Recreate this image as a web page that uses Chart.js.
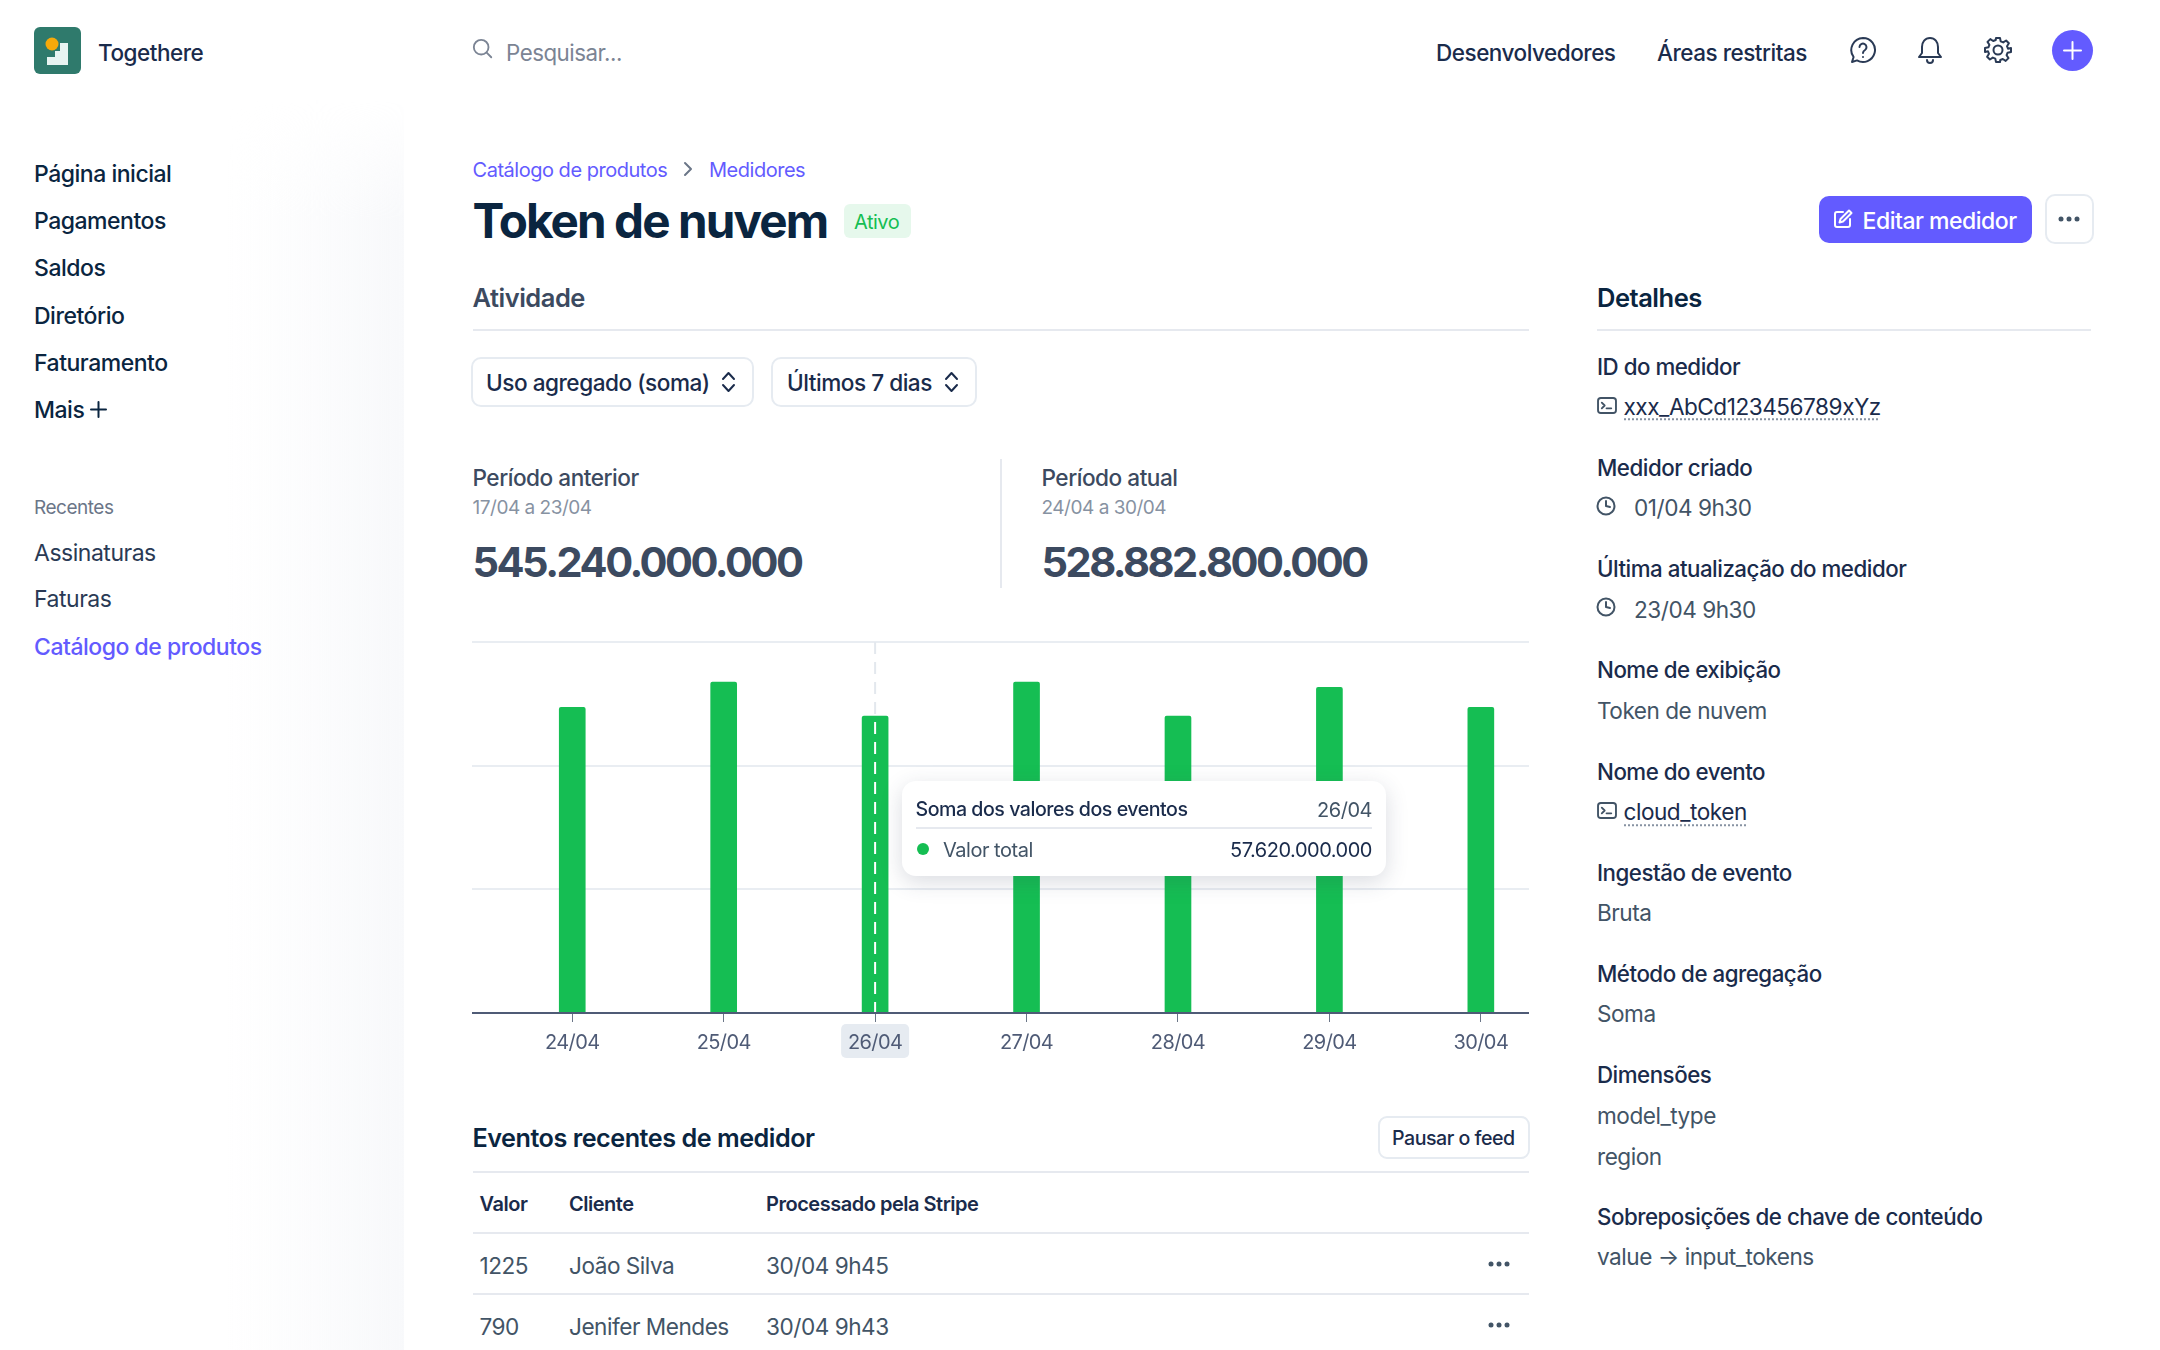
<!DOCTYPE html>
<html lang="pt-BR">
<head>
<meta charset="utf-8">
<title>Token de nuvem</title>
<script src="https://cdn.jsdelivr.net/npm/chart.js@4"></script>
<style>
  html, body { margin: 0; padding: 0; background: #fff; }
  body { width: 2160px; height: 1350px; overflow: hidden; position: relative; font-family: "Inter", sans-serif; letter-spacing: -0.03em; }
  .t { position: absolute; white-space: nowrap; transform: translateY(-50%); line-height: 1.3; }
  .box { position: absolute; box-sizing: border-box; }
  .ico { position: absolute; fill: none; stroke: currentColor; stroke-width: 2; stroke-linecap: round; stroke-linejoin: round; }
  .line { position: absolute; height: 2px; background: #e6e9ef; }
  .nav { left: 34px; font-size: 23px; font-weight: 500; color: #0a2540; }
  .lab { left: 1597px; font-size: 22.3px; font-weight: 500; color: #1a2b4b; }
  .val { left: 1597px; font-size: 22.6px; color: #425466; }
  .top { font-size: 22.5px; font-weight: 500; color: #1a2b4b; }
  .th { font-size: 20px; font-weight: 600; color: #1a2b4b; }
  .td { font-size: 22.6px; color: #425466; }
  .lk { text-decoration: underline dotted #8792a2 2px; text-underline-offset: 4px; color: #1a2b4b; }
  .dots { position: absolute; display: flex; gap: 3px; transform: translate(-50%, -50%); }
  .dots i { width: 5px; height: 5px; border-radius: 50%; background: #425466; display: block; }
  .period { font-size: 22.6px; font-weight: 500; color: #3c4a60; }
  .sub { font-size: 19px; color: #8792a2; }
  .big { font-size: 41.5px; font-weight: 700; color: #3c4a60; letter-spacing: -0.06em; }
  #tip { position: absolute; left: 902px; top: 781px; width: 484px; height: 95px; background: #fff; border-radius: 14px; box-shadow: 0 6px 22px rgba(50, 60, 90, .18); }
</style>
</head>
<body>
  <!-- barra lateral -->
  <div class="box" style="left:228px;top:100px;width:176px;height:1250px;background:linear-gradient(to right,rgba(247,249,251,0),#f8f9fb);-webkit-mask-image:linear-gradient(to bottom,transparent,#000 120px)"></div>

  <svg class="box" style="left:34px;top:27px" width="47" height="47" viewBox="0 0 47 47">
    <rect width="47" height="47" rx="6" fill="#2f7a6c"/>
    <path d="M13 38V30H21V24H26V16H34V38Z" fill="#e8f4f1"/>
    <circle cx="18" cy="17" r="6.5" fill="#f5a90a"/>
  </svg>
  <div class="t top" style="left:98px;top:53px">Togethere</div>

  <svg class="ico" style="left:472px;top:38px;color:#7b8494" width="22" height="22" viewBox="0 0 24 24"><circle cx="10" cy="10" r="8"/><path d="M16 16l5 5"/></svg>
  <div class="t" style="left:506px;top:52.5px;font-size:22.3px;color:#7b8494">Pesquisar...</div>

  <div class="t top" style="left:1436px;top:53px">Desenvolvedores</div>
  <div class="t top" style="left:1657px;top:53px">Áreas restritas</div>
  <svg class="ico" style="left:1849px;top:36px;color:#2a3a55" width="28" height="28" viewBox="0 0 28 28"><path d="M14 2a12 12 0 1 1-6 22.4L3 26l1.6-5A12 12 0 0 1 14 2z"/><path d="M10.5 11a3.5 3.5 0 1 1 5.5 3c-1.3.8-2 1.4-2 3"/><path d="M14 21v.1"/></svg>
  <svg class="ico" style="left:1916px;top:36px;color:#2a3a55" width="28" height="28" viewBox="0 0 28 28"><path d="M14 2c-5 0-8 4-8 9v6l-3 4h22l-3-4v-6c0-5-3-9-8-9z"/><path d="M11 24a3 3 0 0 0 6 0"/></svg>
  <svg class="ico" style="left:1984px;top:36px;color:#2a3a55" width="28" height="28" viewBox="0 0 28 28"><circle cx="14" cy="14" r="4.5"/><path d="M12 2h4l.7 3.4 2.5 1 2.9-1.9 2.8 2.8-1.9 2.9 1 2.5L27 12v4l-3.4.7-1 2.5 1.9 2.9-2.8 2.8-2.9-1.9-2.5 1L16 26h-4l-.7-3.4-2.5-1-2.9 1.900-2.800-2.800 1.900-2.900-1-2.500L1 16v-4l3.400-.7 1-2.500-1.900-2.900 2.800-2.800 2.900 1.900 2.500-1z"/></svg>
  <div class="box" style="left:2052px;top:30px;width:41px;height:41px;border-radius:50%;background:#635bff"></div>
  <svg class="ico" style="left:2062px;top:40px;color:#fff" width="21" height="21" viewBox="0 0 21 21"><path d="M10.500 2v17M2 10.500h17"/></svg>

  <div class="t nav" style="top:175px">Página inicial</div>
  <div class="t nav" style="top:222px">Pagamentos</div>
  <div class="t nav" style="top:269px">Saldos</div>
  <div class="t nav" style="top:317px">Diretório</div>
  <div class="t nav" style="top:364px">Faturamento</div>
  <div class="t nav" style="top:411px">Mais</div>
  <svg class="ico" style="left:90px;top:401px;color:#0a2540" width="17" height="17" viewBox="0 0 17 17"><path d="M8.500 1v15M1 8.500h15"/></svg>
  <div class="t" style="left:34px;top:508px;font-size:19px;color:#6b7688">Recentes</div>
  <div class="t" style="left:34px;top:553.5px;font-size:23px;color:#2a3a55">Assinaturas</div>
  <div class="t" style="left:34px;top:600px;font-size:23px;color:#2a3a55">Faturas</div>
  <div class="t" style="left:34px;top:648px;font-size:23px;font-weight:500;color:#635bff">Catálogo de produtos</div>

  <!-- cabecalho -->
  <div class="t" style="left:472.5px;top:170px;font-size:20px;color:#635bff">Catálogo de produtos</div>
  <svg class="ico" style="left:682px;top:161px;color:#6b7688" width="12" height="16" viewBox="0 0 12 16"><path d="M3 2l6 6-6 6"/></svg>
  <div class="t" style="left:709px;top:170px;font-size:20px;color:#635bff">Medidores</div>
  <div class="t" style="left:472.5px;top:221px;font-size:47.6px;font-weight:700;color:#0a2540;letter-spacing:-0.04em">Token de nuvem</div>
  <div class="box" style="left:844px;top:204px;width:67px;height:34px;border-radius:6px;background:#e6f8ec"></div>
  <div class="t" style="left:854px;top:222px;font-size:20px;color:#15be53">Ativo</div>

  <div class="box" style="left:1819px;top:196px;width:213px;height:47px;border-radius:10px;background:#635bff"></div>
  <svg class="ico" style="left:1833px;top:209px;color:#fff" width="20" height="20" viewBox="0 0 20 20"><path d="M10 3H4a2 2 0 0 0-2 2v11a2 2 0 0 0 2 2h11a2 2 0 0 0 2-2v-6"/><path d="M16 1.500l2.500 2.500L10 12.500l-3.500 1 1-3.500z"/></svg>
  <div class="t" style="left:1862.5px;top:222px;font-size:23px;font-weight:500;color:#fff">Editar medidor</div>
  <div class="box" style="left:2045px;top:194px;width:49px;height:50px;border:2px solid #e6ebf1;border-radius:10px"></div>
  <div class="dots" style="left:2069px;top:219px"><i></i><i></i><i></i></div>

  <div class="t" style="left:472.5px;top:298px;font-size:25.5px;font-weight:600;color:#3c4a60">Atividade</div>
  <div class="line" style="left:472.5px;top:329px;width:1056px"></div>
  <div class="t" style="left:1597px;top:298px;font-size:25.5px;font-weight:600;color:#0a2540">Detalhes</div>
  <div class="line" style="left:1597px;top:329px;width:494px"></div>

  <!-- filtros -->
  <div class="box" style="left:471px;top:357px;width:283px;height:50px;border:2px solid #e6ebf1;border-radius:10px"></div>
  <div class="t" style="left:486px;top:383px;font-size:22.6px;font-weight:500;color:#1a2b4b">Uso agregado (soma)</div>
  <svg class="ico" style="left:720px;top:370px;color:#1a2b4b" width="17" height="24" viewBox="0 0 17 24"><path d="M3 9l5.500-6L14 9M3 15l5.500 6L14 15"/></svg>
  <div class="box" style="left:771px;top:357px;width:206px;height:50px;border:2px solid #e6ebf1;border-radius:10px"></div>
  <div class="t" style="left:787px;top:383px;font-size:22.6px;font-weight:500;color:#1a2b4b">Últimos 7 dias</div>
  <svg class="ico" style="left:943px;top:370px;color:#1a2b4b" width="17" height="24" viewBox="0 0 17 24"><path d="M3 9l5.500-6L14 9M3 15l5.500 6L14 15"/></svg>

  <!-- periodos -->
  <div class="t period" style="left:472.5px;top:478px">Período anterior</div>
  <div class="t sub" style="left:472.5px;top:508px">17/04 a 23/04</div>
  <div class="t big" style="left:472.5px;top:563px">545.240.000.000</div>
  <div class="box" style="left:1000px;top:459px;width:2px;height:129px;background:#e6e9ef"></div>
  <div class="t period" style="left:1041.5px;top:478px">Período atual</div>
  <div class="t sub" style="left:1041.5px;top:508px">24/04 a 30/04</div>
  <div class="t big" style="left:1041.5px;top:563px">528.882.800.000</div>

  <!-- grafico -->
  <canvas id="grafico_medidor" class="box" style="left:472px;top:630px" width="1057" height="440"></canvas>

  <div id="tip">
    <div class="t" id="tip_titulo" style="left:13.5px;top:29px;font-size:19.6px;font-weight:500;color:#1a2b4b"></div>
    <div class="t" id="tip_dia" style="right:14px;top:29px;font-size:20px;color:#425466"></div>
    <div class="line" style="left:13.5px;right:14px;top:46px"></div>
    <div class="box" style="left:14.5px;top:62px;width:12px;height:12px;border-radius:50%;background:#15be53"></div>
    <div class="t" id="tip_serie" style="left:41px;top:69px;font-size:20px;color:#425466"></div>
    <div class="t" id="tip_valor" style="right:14px;top:69px;font-size:20px;color:#1a2b4b"></div>
  </div>

  <!-- eventos -->
  <div class="t" style="left:472.5px;top:1138px;font-size:25.2px;font-weight:600;color:#0a2540">Eventos recentes de medidor</div>
  <div class="box" style="left:1378px;top:1116px;width:152px;height:43px;border:2px solid #e6ebf1;border-radius:9px"></div>
  <div class="t" style="left:1392px;top:1139px;font-size:19.6px;font-weight:500;color:#1a2b4b">Pausar o feed</div>
  <div class="line" style="left:472.5px;top:1171px;width:1056px"></div>
  <div class="t th" style="left:479.5px;top:1204px">Valor</div>
  <div class="t th" style="left:569px;top:1204px">Cliente</div>
  <div class="t th" style="left:766px;top:1204px">Processado pela Stripe</div>
  <div class="line" style="left:472.5px;top:1232px;width:1056px"></div>
  <div class="t td" style="left:479.5px;top:1266px">1225</div>
  <div class="t td" style="left:569px;top:1266px">João Silva</div>
  <div class="t td" style="left:766px;top:1266px">30/04 9h45</div>
  <div class="dots" style="left:1499px;top:1264px"><i></i><i></i><i></i></div>
  <div class="line" style="left:472.5px;top:1293px;width:1056px"></div>
  <div class="t td" style="left:479.5px;top:1327px">790</div>
  <div class="t td" style="left:569px;top:1327px">Jenifer Mendes</div>
  <div class="t td" style="left:766px;top:1327px">30/04 9h43</div>
  <div class="dots" style="left:1499px;top:1325px"><i></i><i></i><i></i></div>

  <!-- detalhes -->
  <div class="t lab" style="top:367px">ID do medidor</div>
  <svg class="ico" style="left:1597px;top:397px;color:#425466" width="20" height="17" viewBox="0 0 21 18"><rect x="1" y="1" width="19" height="16" rx="3"/><path d="M5 6l3 3-3 3M10 12h5"/></svg>
  <div class="t val lk" style="left:1623.5px;top:406.5px">xxx_AbCd123456789xYz</div>
  <div class="t lab" style="top:468px">Medidor criado</div>
  <svg class="ico" style="left:1596px;top:496px;color:#425466" width="20" height="20" viewBox="0 0 20 20"><circle cx="10" cy="10" r="8.500"/><path d="M10 5v5l4 1"/></svg>
  <div class="t val" style="left:1634px;top:508px">01/04 9h30</div>
  <div class="t lab" style="top:569px">Última atualização do medidor</div>
  <svg class="ico" style="left:1596px;top:597px;color:#425466" width="20" height="20" viewBox="0 0 20 20"><circle cx="10" cy="10" r="8.500"/><path d="M10 5v5l4 1"/></svg>
  <div class="t val" style="left:1634px;top:610px">23/04 9h30</div>
  <div class="t lab" style="top:670px">Nome de exibição</div>
  <div class="t val" style="top:711px">Token de nuvem</div>
  <div class="t lab" style="top:771.500px">Nome do evento</div>
  <svg class="ico" style="left:1597px;top:802px;color:#425466" width="20" height="17" viewBox="0 0 21 18"><rect x="1" y="1" width="19" height="16" rx="3"/><path d="M5 6l3 3-3 3M10 12h5"/></svg>
  <div class="t val lk" style="left:1623.5px;top:812px">cloud_token</div>
  <div class="t lab" style="top:873px">Ingestão de evento</div>
  <div class="t val" style="top:913px">Bruta</div>
  <div class="t lab" style="top:974px">Método de agregação</div>
  <div class="t val" style="top:1014px">Soma</div>
  <div class="t lab" style="top:1075px">Dimensões</div>
  <div class="t val" style="top:1116px">model_type</div>
  <div class="t val" style="top:1156.500px">region</div>
  <div class="t lab" style="top:1217px">Sobreposições de chave de conteúdo</div>
  <div class="t val" style="top:1257px">value → input_tokens</div>

<script>
// Dados
const dias = ["24/04", "25/04", "26/04", "27/04", "28/04", "29/04", "30/04"];
const valorTotal = [59300000000, 64200000000, 57620000000, 64200000000, 57620000000, 63200000000, 59300000000];
const diaAtivo = 2;
const tituloTooltip = "Soma dos valores dos eventos";
const nomeSerie = "Valor total";

// destaque do dia ativo: etiqueta atras do rotulo e linha tracejada sobre a barra
const destaqueDia = {
  id: "destaqueDia",
  beforeDraw(chart) {
    chart.ctx.letterSpacing = "-0.6px";
    const { ctx, scales } = chart;
    const x = scales.x.getPixelForValue(diaAtivo);
    ctx.save();
    ctx.fillStyle = "#e6ebf1";
    ctx.beginPath();
    ctx.roundRect(x - 34, scales.x.top + 11, 68, 34, 5);
    ctx.fill();
    ctx.restore();
  },
  afterDatasetsDraw(chart) {
    const { ctx, scales } = chart;
    const x = scales.x.getPixelForValue(diaAtivo);
    const topoBarra = scales.y.getPixelForValue(valorTotal[diaAtivo]);
    ctx.save();
    ctx.lineWidth = 2;
    ctx.setLineDash([12, 8]);
    ctx.strokeStyle = "#e3e8ee";
    ctx.beginPath();
    ctx.moveTo(x, scales.y.top);
    ctx.lineTo(x, topoBarra);
    ctx.stroke();
    ctx.strokeStyle = "#ffffff";
    ctx.beginPath();
    ctx.moveTo(x, topoBarra + 6);
    ctx.lineTo(x, scales.y.bottom);
    ctx.stroke();
    ctx.restore();
  },
};

document.addEventListener("DOMContentLoaded", () => {
  const canvas = document.querySelector("#grafico_medidor");
  const ctx = canvas.getContext("2d");

  new Chart(ctx, {
    type: "bar",
    plugins: [destaqueDia],
    data: {
      datasets: [
        {
          label: nomeSerie,
          data: dias.map((d, i) => ({ x: i, y: valorTotal[i] })),
          backgroundColor: "#15be53",
          barThickness: 26,
          borderRadius: { topLeft: 2, topRight: 2 },
          borderSkipped: "bottom",
        },
      ],
    },
    options: {
      responsive: false,
      animation: false,
      layout: { padding: { top: 12 } },
      plugins: {
        legend: { display: false },
        tooltip: { enabled: false },
      },
      scales: {
        x: {
          type: "linear",
          offset: false,
          // o eixo do original nao e simetrico: sobra mais espaco a esquerda
          min: -0.662,
          max: 6.318,
          afterFit: (scale) => { scale.height = 57; },
          border: { color: "#4f5b76", width: 2, z: 1 },
          grid: { offset: false, drawOnChartArea: false, drawTicks: true, tickLength: 9, color: "#6b7688", lineWidth: 1 },
          ticks: {
            z: 1,
            stepSize: 1,
            includeBounds: false,
            autoSkip: false,
            maxRotation: 0,
            padding: 9,
            color: "#4f5b76",
            font: { family: "Inter", size: 20 },
            callback: (v) => dias[v],
          },
        },
        y: {
          min: 0,
          max: 72000000000,
          afterFit: (scale) => { scale.width = 0; },
          border: { display: false },
          grid: { color: "#e9edf2", lineWidth: 2, drawTicks: false },
          ticks: { display: false, stepSize: 24000000000 },
        },
      },
    },
  });

  document.querySelector("#tip_titulo").textContent = tituloTooltip;
  document.querySelector("#tip_dia").textContent = dias[diaAtivo];
  document.querySelector("#tip_serie").textContent = nomeSerie;
  document.querySelector("#tip_valor").textContent = valorTotal[diaAtivo].toLocaleString("pt-BR");
});
</script>
</body>
</html>
